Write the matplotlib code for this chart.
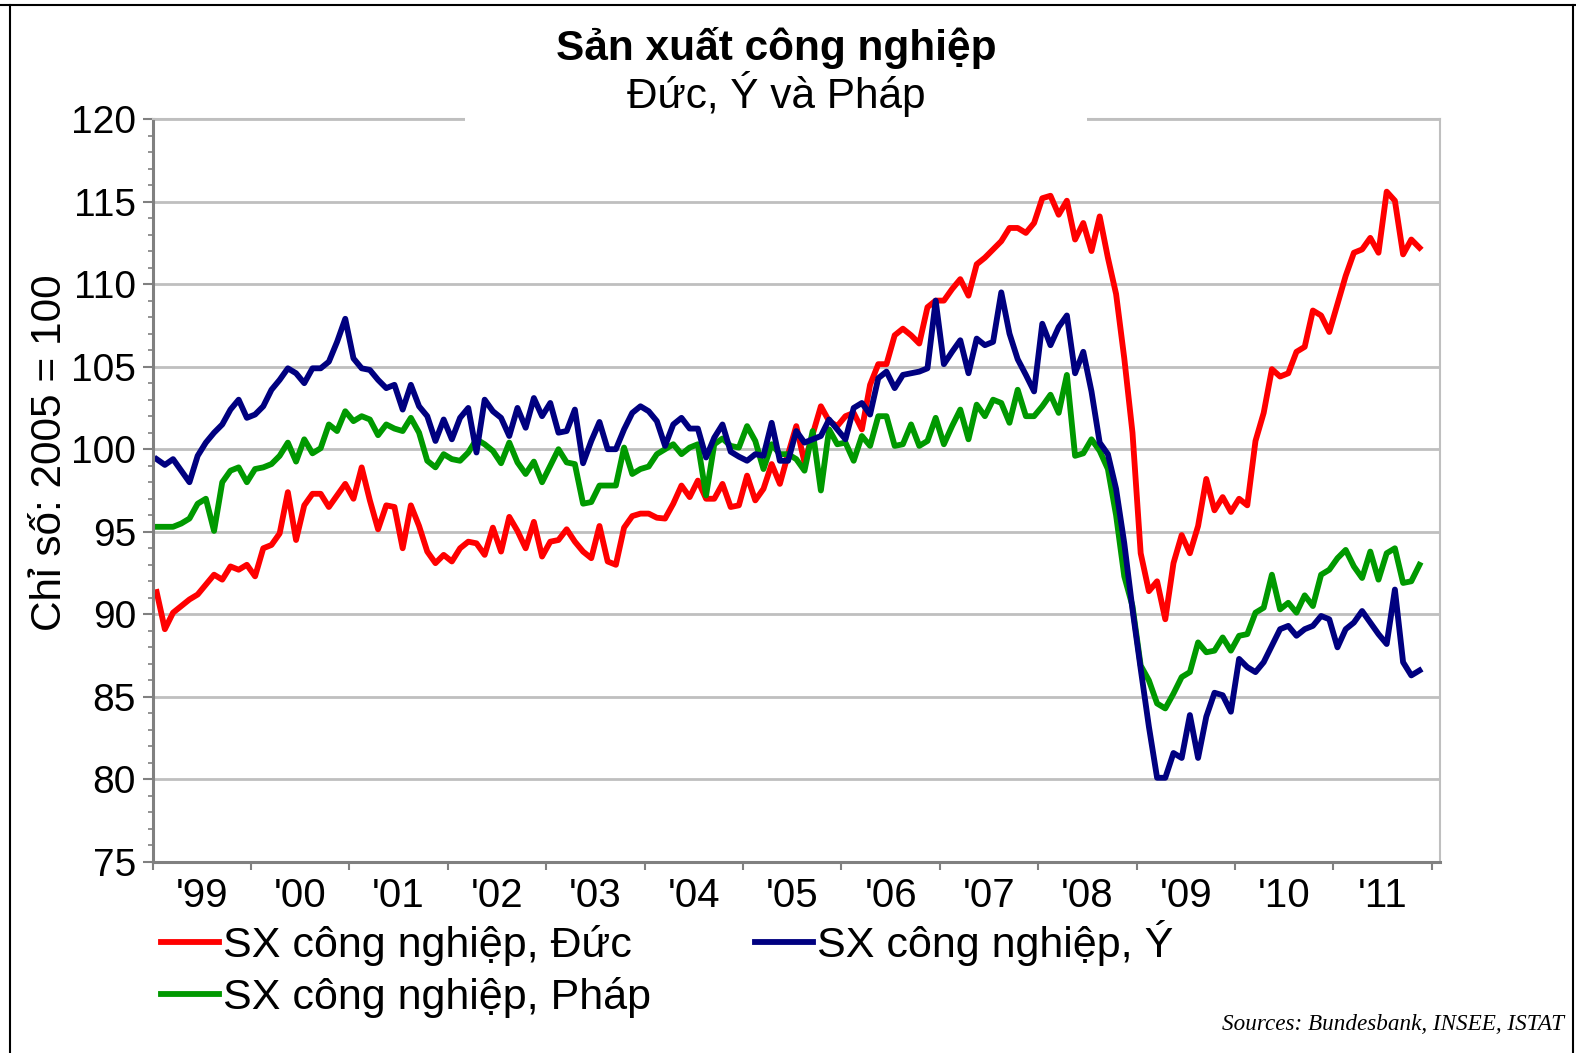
import numpy as np
import matplotlib
matplotlib.use('Agg')
import matplotlib.pyplot as plt
from matplotlib.ticker import MultipleLocator
from matplotlib.patches import Rectangle
from matplotlib.lines import Line2D

plt.rcParams['font.family'] = ['Liberation Sans', 'DejaVu Sans']

# Chi so SX cong nghiep (2005 = 100), theo thang, 1/1999 - 11/2011
duc = [91.35, 89.1, 90.1, 90.5, 90.9, 91.2, 91.8, 92.4, 92.1, 92.9, 92.7, 93.0,
       92.3, 94.0, 94.2, 94.9, 97.4, 94.5, 96.6, 97.3, 97.3, 96.5, 97.2, 97.9,
       97.0, 98.9, 96.9, 95.15, 96.6, 96.5, 94.0, 96.6, 95.35, 93.8, 93.1, 93.6,
       93.2, 94.0, 94.4, 94.3, 93.6, 95.25, 93.8, 95.9, 95.05, 94.0, 95.6, 93.5,
       94.4, 94.5, 95.15, 94.4, 93.8, 93.4, 95.35, 93.2, 93.0, 95.25, 95.95, 96.1,
       96.1, 95.85, 95.8, 96.7, 97.8, 97.1, 98.1, 97.0, 97.0, 97.9, 96.5, 96.6,
       98.4, 96.9, 97.6, 99.1, 97.9, 99.7, 101.4, 99.2, 100.9, 102.6, 101.7, 101.4,
       102.0, 102.2, 101.2, 103.9, 105.15, 105.15, 106.9, 107.3, 106.9, 106.4, 108.6, 109.0,
       109.0, 109.7, 110.3, 109.3, 111.2, 111.6, 112.1, 112.6, 113.4, 113.4, 113.1, 113.7,
       115.2, 115.35, 114.2, 115.05, 112.7, 113.7, 112.0, 114.1, 111.6, 109.4, 105.5, 101.0,
       93.7, 91.4, 92.0, 89.7, 93.1, 94.8, 93.7, 95.35, 98.2, 96.3, 97.1, 96.2,
       97.0, 96.6, 100.5, 102.2, 104.85, 104.4, 104.6, 105.9, 106.2, 108.4, 108.1, 107.1,
       108.8, 110.5, 111.9, 112.1, 112.8, 111.9, 115.6, 115.05, 111.8, 112.7, 112.2]

y_it = [99.4, 99.05, 99.4, 98.7, 98.0, 99.6, 100.4, 101.0, 101.5, 102.4, 103.0, 101.9,
        102.1, 102.6, 103.6, 104.2, 104.9, 104.6, 104.0, 104.9, 104.9, 105.3, 106.5, 107.9,
        105.5, 104.9, 104.8, 104.2, 103.7, 103.9, 102.4, 103.9, 102.6, 102.0, 100.5, 101.8,
        100.6, 101.9, 102.5, 99.8, 103.0, 102.3, 101.9, 100.8, 102.5, 101.3, 103.1, 102.0,
        102.8, 101.0, 101.1, 102.4, 99.15, 100.5, 101.65, 100.0, 100.0, 101.2, 102.2, 102.6,
        102.3, 101.7, 100.2, 101.5, 101.9, 101.25, 101.25, 99.5, 100.7, 101.5, 99.85, 99.55,
        99.3, 99.7, 99.6, 101.6, 99.3, 99.3, 101.1, 100.4, 100.6, 100.8, 101.8, 101.2,
        100.6, 102.5, 102.8, 102.1, 104.3, 104.7, 103.7, 104.5, 104.6, 104.7, 104.9, 109.0,
        105.15, 105.9, 106.6, 104.6, 106.7, 106.3, 106.5, 109.5, 107.0, 105.45, 104.5, 103.5,
        107.6, 106.3, 107.4, 108.1, 104.6, 105.9, 103.5, 100.4, 99.7, 97.6, 94.3, 90.3,
        86.7, 83.2, 80.1, 80.1, 81.6, 81.3, 83.9, 81.3, 83.8, 85.25, 85.1, 84.1,
        87.3, 86.8, 86.5, 87.1, 88.1, 89.1, 89.3, 88.7, 89.1, 89.3, 89.9, 89.7,
        88.0, 89.1, 89.5, 90.2, 89.5, 88.8, 88.2, 91.5, 87.1, 86.3, 86.6]

phap = [95.3, 95.3, 95.3, 95.5, 95.8, 96.7, 97.0, 95.05, 98.0, 98.7, 98.9, 98.0,
        98.8, 98.9, 99.1, 99.6, 100.4, 99.25, 100.6, 99.75, 100.06, 101.5, 101.1, 102.3,
        101.7, 102.0, 101.8, 100.85, 101.5, 101.25, 101.1, 101.9, 101.0, 99.3, 98.9, 99.7,
        99.4, 99.3, 99.8, 100.6, 100.3, 99.9, 99.15, 100.4, 99.2, 98.5, 99.25, 98.0,
        99.0, 100.0, 99.2, 99.1, 96.7, 96.8, 97.8, 97.8, 97.8, 100.1, 98.5, 98.8,
        98.95, 99.7, 100.0, 100.3, 99.7, 100.1, 100.3, 97.2, 100.3, 100.65, 100.2, 100.1,
        101.4, 100.5, 98.8, 100.3, 99.7, 99.7, 99.4, 98.7, 101.1, 97.5, 101.2, 100.3,
        100.4, 99.3, 100.8, 100.2, 102.0, 102.0, 100.2, 100.3, 101.5, 100.2, 100.5, 101.9,
        100.3, 101.4, 102.4, 100.6, 102.7, 102.0, 103.0, 102.8, 101.6, 103.6, 102.0, 102.0,
        102.6, 103.3, 102.2, 104.5, 99.6, 99.75, 100.6, 99.9, 98.8, 96.0, 92.3, 90.5,
        86.9, 86.0, 84.6, 84.3, 85.2, 86.2, 86.5, 88.3, 87.7, 87.8, 88.6, 87.8,
        88.7, 88.8, 90.1, 90.4, 92.4, 90.3, 90.7, 90.1, 91.15, 90.5, 92.4, 92.7,
        93.4, 93.9, 92.9, 92.2, 93.8, 92.1, 93.7, 94.0, 91.9, 92.0, 93.0]

nam = ["'99", "'00", "'01", "'02", "'03", "'04", "'05", "'06", "'07", "'08", "'09", "'10", "'11"]

thang = np.arange(len(duc)) + 0.5

fig = plt.figure(figsize=(15.76, 10.53), dpi=100)
ax = fig.add_axes([0.0968, 0.1814, 0.8169, 0.7056])

l_duc, = ax.plot(thang, duc, color='#FF0000', lw=4.2, label='SX công nghiệp, Đức')
l_phap, = ax.plot(thang, phap, color='#009900', lw=4.2, label='SX công nghiệp, Pháp')
l_it, = ax.plot(thang, y_it, color='#000080', lw=4.2, label='SX công nghiệp, Ý')

ax.set_xlim(0, 12 * len(nam) + 1)
ax.set_ylim(75, 120)
ax.set_yticks(np.arange(75, 121, 5))
ax.yaxis.set_minor_locator(MultipleLocator(1))
ax.yaxis.grid(True, color='#BFBFBF', lw=2)
ax.set_axisbelow(True)

ax.set_xticks(np.arange(0, 12 * len(nam) + 1, 12))
ax.set_xticklabels([])
ax.set_xticks(np.arange(6, 12 * len(nam), 12), minor=True)
ax.set_xticklabels(nam, minor=True)

ax.tick_params(axis='y', which='major', labelsize=28, length=7, width=1.5, color='#808080', pad=5)
ax.tick_params(axis='y', which='minor', length=3.5, width=1.2, color='#808080')
ax.tick_params(axis='x', which='major', length=6, width=1.5, color='#808080')
ax.tick_params(axis='x', which='minor', length=0, labelsize=29, pad=11)

for s in ['left', 'bottom']:
    ax.spines[s].set_color('#808080')
    ax.spines[s].set_linewidth(2.2)
for s in ['top', 'right']:
    ax.spines[s].set_color('#BFBFBF')
    ax.spines[s].set_linewidth(1.5)

# hop tieu de mau trang che mot phan duong 120
fig.patches.append(Rectangle((465 / 1576, 1 - 123 / 1053), 622 / 1576, 110 / 1053,
                             transform=fig.transFigure, facecolor='white',
                             edgecolor='none', zorder=2))
fig.text(0.4924, 0.954, 'Sản xuất công nghiệp', ha='center', va='center',
         fontsize=30.5, fontweight='bold', zorder=3)
fig.text(0.4924, 0.911, 'Đức, Ý và Pháp', ha='center', va='center', fontsize=30.5, zorder=3)

fig.text(50 / 1576, 0.5698, 'Chỉ số: 2005 = 100', rotation=90, ha='center', va='center',
         fontsize=30.5)

fig.legend([l_duc, l_phap, l_it], [l_duc.get_label(), l_phap.get_label(), l_it.get_label()],
           loc='upper left', bbox_to_anchor=(161 / 1576, 1 - 920 / 1053), ncol=2,
           frameon=False, fontsize=31, handlelength=1.35, handletextpad=0.1,
           columnspacing=2.4, labelspacing=0.25, borderpad=0, borderaxespad=0)

fig.text(1564 / 1576, 1 - 1025 / 1053, 'Sources: Bundesbank, INSEE, ISTAT', ha='right',
         va='center', family='Liberation Serif', style='italic', fontsize=16.7)

# khung vien den
for xs, ys in [([0, 1], [0.9953, 0.9953]), ([0.0065, 0.0065], [0, 0.9953]),
               ([0.998, 0.998], [0, 0.9953])]:
    fig.add_artist(Line2D(xs, ys, transform=fig.transFigure, color='black', lw=1.5))

fig.savefig('out.png', dpi=100)
